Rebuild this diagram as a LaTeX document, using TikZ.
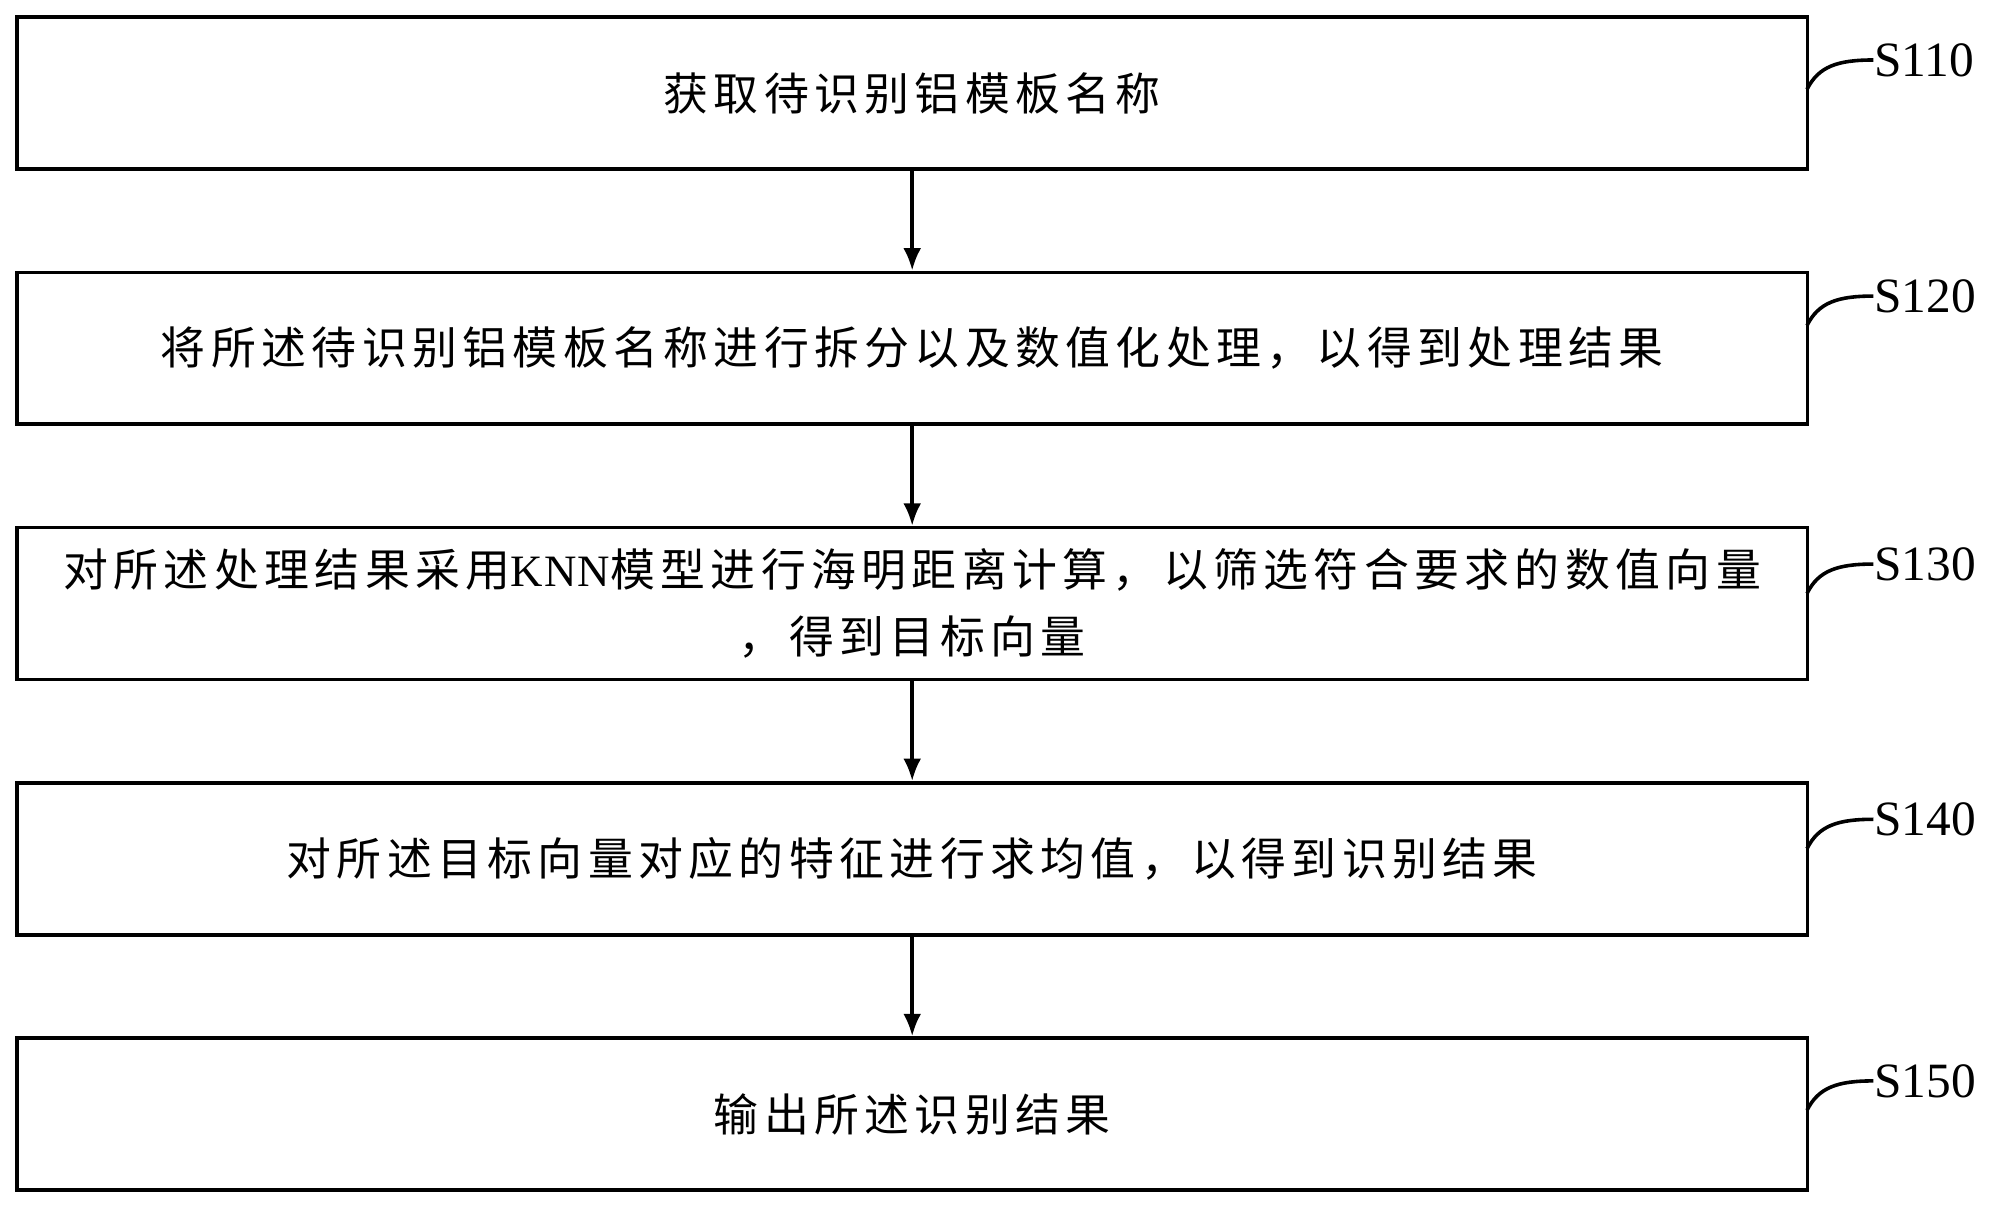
\documentclass[tikz,border=0pt]{standalone}
\usepackage{fontspec}
\setmainfont{Liberation Serif}
\newfontfamily\cjk[LetterSpace=12]{Noto Sans CJK SC}
\newfontfamily\lat[LetterSpace=3]{Liberation Serif}
\usetikzlibrary{arrows.meta}
\begin{document}
\begin{tikzpicture}[x=0.01cm,y=-0.01cm,
  box/.style={draw,line width=0.8pt,minimum width=14.02cm,minimum height=1.19cm,anchor=north west,inner sep=0pt,font=\cjk\fontsize{10}{15}\selectfont,align=center},
  arr/.style={-{Latex[length=5pt,width=4pt]},line width=0.8pt},
  lab/.style={font=\fontsize{11}{12}\selectfont,anchor=west,inner sep=0pt}]
\useasboundingbox (0,0) rectangle (1568,945);
\node[box] (b1) at (12,12) {获取待识别铝模板名称};
\node[box] (b2) at (12,212) {将所述待识别铝模板名称进行拆分以及数值化处理，以得到处理结果};
\node[box] (b3) at (12,412) {对所述处理结果采用{\lat KNN}模型进行海明距离计算，以筛选符合要求的数值向量\\，得到目标向量};
\node[box] (b4) at (12,612) {对所述目标向量对应的特征进行求均值，以得到识别结果};
\node[box] (b5) at (12,812) {输出所述识别结果};
\foreach \a/\b in {b1/b2,b2/b3,b3/b4,b4/b5} \draw[arr] (\a.south) -- (\b.north);
\foreach \n/\y/\t in {1/47/S110,2/232/S120,3/442/S130,4/642/S140,5/847/S150}{
  \coordinate (c\n) at (1416,\y+23);
  \node[lab] (l\n) at (1468,\y) {\t};
  \draw[line width=0.8pt] (c\n) .. controls (1425,\y+5) and (1440,\y) .. (l\n.west);
}
\end{tikzpicture}
\end{document}
